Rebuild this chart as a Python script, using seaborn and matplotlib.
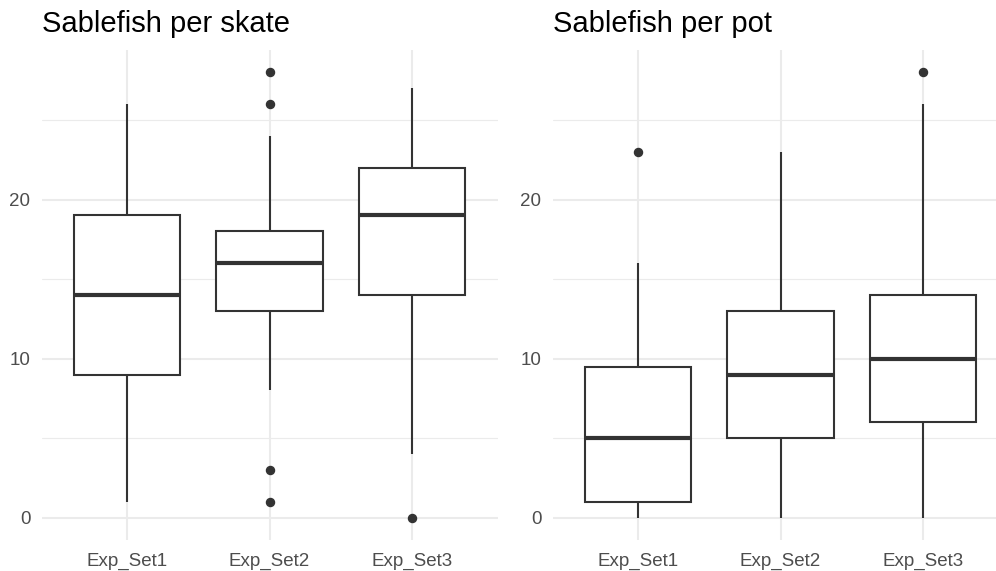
import pandas as pd
import matplotlib.pyplot as plt
import seaborn as sns

# Sablefish counts per experimental set (values chosen to give the plotted box stats)
sets = ["Exp_Set1", "Exp_Set2", "Exp_Set3"]
skate_set1 = [1, 4, 7, 9, 11, 12, 14, 15, 17, 19, 21, 23, 26]
skate_set2 = [1, 3, 8, 13, 14, 15, 16, 17, 17, 18, 24, 26, 28]
skate_set3 = [0, 4, 10, 14, 16, 18, 19, 20, 21, 22, 24, 25, 27]
pot_set1 = [0, 0, 0, 1, 1, 2, 3, 5, 6, 8, 9, 10, 12, 16, 23]
pot_set2 = [0, 2, 4, 5, 6, 7, 9, 10, 11, 13, 16, 19, 23]
pot_set3 = [0, 3, 5, 6, 8, 9, 10, 11, 12, 14, 18, 26, 28]
titles = ["Sablefish per skate", "Sablefish per pot"]


def long_df(groups):
    rows = []
    for name, vals in zip(sets, groups):
        rows += [(name, v) for v in vals]
    return pd.DataFrame(rows, columns=["set", "count"])


skate = long_df([skate_set1, skate_set2, skate_set3])
pot = long_df([pot_set1, pot_set2, pot_set3])

sns.set_theme(style="white")
plt.rcParams["font.family"] = ["Liberation Sans", "DejaVu Sans"]

W, H = 996, 571
fig = plt.figure(figsize=(W / 100, H / 100), dpi=100)
ax1 = fig.add_axes([41.5 / W, 31 / H, 456 / W, 490 / H])
ax2 = fig.add_axes([552.5 / W, 31 / H, 456 / W, 490 / H])

line_col = "#333333"
for ax, df, title in zip([ax1, ax2], [skate, pot], titles):
    sns.boxplot(
        data=df, x="set", y="count", order=sets, ax=ax,
        color="white", linecolor=line_col, linewidth=1.5, width=0.75,
        showcaps=False,
        medianprops=dict(linewidth=3.0, color=line_col),
        flierprops=dict(marker="o", markersize=5.8, markerfacecolor=line_col,
                        markeredgecolor=line_col),
    )
    ax.set_xlim(-0.6, 2.6)
    ax.set_ylim(-1.4, 29.4)
    ax.set_yticks([0, 10, 20])
    ax.set_yticks([5, 15, 25], minor=True)
    ax.set_xlabel("")
    ax.set_ylabel("")
    ax.set_axisbelow(True)
    ax.grid(True, which="major", color="#EBEBEB", linewidth=1.5)
    ax.grid(True, which="minor", axis="y", color="#EBEBEB", linewidth=0.8)
    for s in ax.spines.values():
        s.set_visible(False)
    ax.tick_params(axis="both", which="both", length=0, labelsize=13.5,
                   labelcolor="#4D4D4D")
    ax.tick_params(axis="x", pad=9)
    ax.tick_params(axis="y", pad=8)
    ax.set_title(title, loc="left", fontsize=21, pad=13, color="black")

fig.savefig("out.png", dpi=100)
